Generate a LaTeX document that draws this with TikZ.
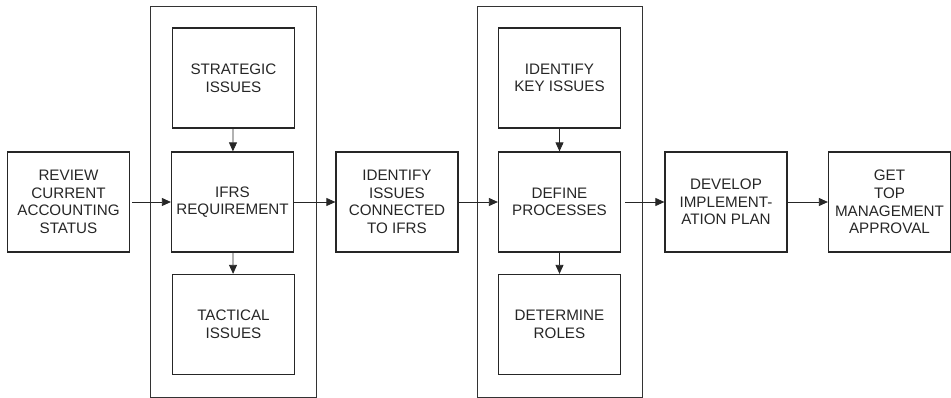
\documentclass[tikz,border=0pt]{standalone}
\usepackage{fontspec}
\setmainfont{Liberation Sans}
\usetikzlibrary{arrows.meta}
\begin{document}
\begin{tikzpicture}[x=1pt,y=-1pt,
  stepbox/.style={draw=black!85, line width=1.25pt, rectangle, minimum width=122pt, minimum height=100pt,
    inner sep=0pt, align=center, font=\fontsize{15.2}{17.6}\selectfont, text=black!85},
  groupbox/.style={draw=black!80, line width=0.8pt, rectangle, inner sep=0pt},
  flow/.style={draw=black!85, line width=0.8pt, -{Triangle[length=9pt,width=8pt]}}]
\useasboundingbox (0,0) rectangle (951,398);
% grouping frames
\node[groupbox, minimum width=166pt, minimum height=391pt] (g1) at (233,201.5) {};
\node[groupbox, minimum width=165pt, minimum height=391pt] (g2) at (559.5,201.5) {};
% process steps
\node[stepbox] (review) at (68.5,202) {REVIEW\\CURRENT\\ACCOUNTING\\STATUS};
\node[stepbox] (strat) at (233.5,78) {STRATEGIC\\ISSUES};
\node[stepbox] (ifrs) at (232.5,202) {IFRS\\REQUIREMENT};
\node[stepbox] (tact) at (233.5,324.5) {TACTICAL\\ISSUES};
\node[stepbox] (ident) at (397,202) {IDENTIFY\\ISSUES\\CONNECTED\\TO IFRS};
\node[stepbox] (key) at (559.5,78) {IDENTIFY\\KEY ISSUES};
\node[stepbox] (define) at (559.5,202) {DEFINE\\PROCESSES};
\node[stepbox] (roles) at (559.5,324.5) {DETERMINE\\ROLES};
\node[stepbox] (develop) at (726,202) {DEVELOP\\IMPLEMENT-\\ATION PLAN};
\node[stepbox] (approve) at (889.5,202) {GET\\TOP\\MANAGEMENT\\APPROVAL};
% connectors
\draw[flow, shorten <=2pt] (review) -- (ifrs);
\draw[flow] (ifrs) -- (ident);
\draw[flow] (ident) -- (define);
\draw[flow, shorten <=4pt] (define) -- (develop);
\draw[flow] (develop) -- (approve);
\draw[flow] (strat) -- (ifrs);
\draw[flow] (ifrs) -- (tact);
\draw[flow] (key) -- (define);
\draw[flow] (define) -- (roles);
\end{tikzpicture}
\end{document}
